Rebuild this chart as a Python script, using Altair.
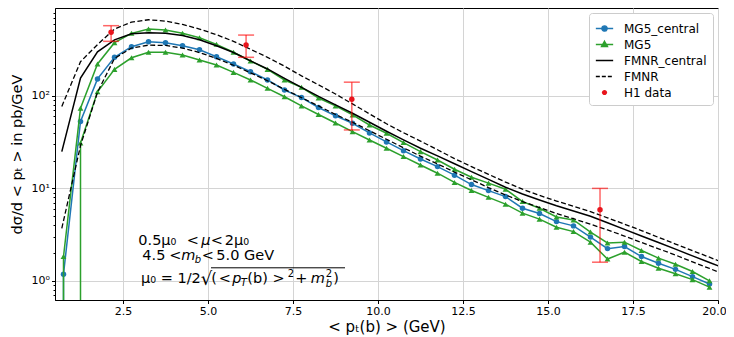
import altair as alt
import pandas as pd

# ---------------- data ----------------
x_mg5 = [0.25, 0.75, 1.25, 1.75, 2.25, 2.75, 3.25, 3.75, 4.25, 4.75,
         5.25, 5.75, 6.25, 6.75, 7.25, 7.75, 8.25, 8.75, 9.25, 9.75,
         10.25, 10.75, 11.25, 11.75, 12.25, 12.75, 13.25, 13.75, 14.25, 14.75,
         15.25, 15.75, 16.25, 16.75, 17.25, 17.75, 18.25, 18.75, 19.25, 19.75]
# non-positive values (first bins) are clipped to the bottom, as on the reference
mg5_central = [0, 1.18, 53, 153, 262, 341, 386, 377, 350, 316,
               266, 222, 183, 149, 116, 96, 75, 61, 50.7, 39.8,
               31.8, 25.6, 20.8, 17.2, 13.9, 11.0, 9.46, 8.15, 6.1, 5.35,
               4.37, 3.93, 2.97, 2.23, 2.35, 1.83, 1.55, 1.33, 1.11, 0.925]
mg5_upper = [0, 1.83, 73.6, 222, 377, 476, 530, 517, 476, 427,
             362, 297, 239, 194, 149, 124, 95, 78, 62.4, 48.5,
             39.5, 31.3, 25.0, 20.3, 16.1, 13.2, 11.4, 9.8, 7.2, 6.1,
             4.9, 4.56, 3.37, 2.57, 2.62, 2.13, 1.76, 1.51, 1.26, 1.0]
mg5_lower = [0, 0, 31, 111, 194, 259, 297, 297, 277, 245,
             216, 180, 149, 121, 98, 78, 63, 51, 41.1, 33.4,
             27.2, 22.1, 17.9, 14.6, 11.6, 9.5, 8.0, 6.75, 5.4, 4.65,
             3.8, 3.41, 2.62, 1.72, 2.04, 1.62, 1.37, 1.19, 1.03, 0.855]

x_fmnr = [0.7, 1.25, 1.75, 2.25, 2.75, 3.25, 3.75, 4.25, 4.75, 5.25,
          5.75, 6.25, 6.75, 7.25, 7.75, 8.25, 8.75, 9.25, 9.75, 10.25,
          10.75, 11.25, 11.75, 12.25, 12.75, 13.25, 13.75, 14.25, 14.75, 15.25,
          15.75, 16.25, 16.75, 17.25, 17.75, 18.25, 18.75, 19.25, 19.75, 20.25]
fmnr_central = [25, 156, 300, 405, 470, 483, 478, 450, 405, 350,
                295, 240, 196, 155, 124, 99, 80, 65, 52, 41.5,
                33.5, 27.2, 22.5, 18.5, 15.2, 12.5, 10.3, 8.7, 7.5, 6.5,
                5.7, 5.0, 4.25, 3.6, 3.05, 2.6, 2.2, 1.86, 1.58, 1.34]
fmnr_upper = [77, 235, 360, 530, 630, 668, 645, 595, 530, 460,
              390, 320, 262, 210, 165, 132, 105, 82, 64, 50,
              40, 32.5, 26.2, 21, 17.2, 14.2, 11.7, 9.8, 8.4, 7.3,
              6.4, 5.6, 4.8, 4.1, 3.5, 2.95, 2.5, 2.12, 1.8, 1.52]
fmnr_lower = [3.7, 29, 110, 255, 330, 355, 352, 330, 295, 255,
              215, 178, 146, 118, 96, 78, 63, 52, 42, 34,
              27.5, 22.3, 18.4, 15, 12.4, 10.2, 8.5, 7.2, 6.2, 5.35,
              4.7, 4.1, 3.55, 3.05, 2.6, 2.22, 1.9, 1.6, 1.36, 1.15]

h1_x = [2.15, 6.12, 9.23, 16.53]
h1_y = [489, 356, 92, 5.86]
h1_lo = [390, 262, 42.9, 1.59]
h1_hi = [576, 456, 141, 10.0]

legend_labels = ["MG5_central", "MG5", "FMNR_central", "FMNR", "H1 data"]
x_ticks = [2.5, 5.0, 7.5, 10.0, 12.5, 15.0, 17.5, 20.0]
y_ticks = [0.7, 0.8, 0.9, 1, 2, 3, 4, 5, 6, 7, 8, 9, 10, 20, 30, 40, 50, 60, 70, 80, 90,
           100, 200, 300, 400, 500, 600, 700, 800]

title_text = "γp → bb̄ at NLO @ CM energy of 319 GeV"

# ---------------- tables ----------------
def long(xs, ys, name):
    return pd.DataFrame({"x": xs, "y": ys, "series": name})

mg_df = pd.concat([long(x_mg5, mg5_central, "MG5_central"),
                   long(x_mg5, mg5_upper, "MG5_up"),
                   long(x_mg5, mg5_lower, "MG5_down")], ignore_index=True)
fm_df = pd.concat([long(x_fmnr, fmnr_central, "FMNR_central"),
                   long(x_fmnr, fmnr_upper, "FMNR_up"),
                   long(x_fmnr, fmnr_lower, "FMNR_down")], ignore_index=True)
mg_pos = mg_df[mg_df.y > 0]

CLIP_FLOOR = 1e-3  # stands for a clipped non-positive value on the log axis
drops = []
for name, ys in [("MG5_central", mg5_central), ("MG5_up", mg5_upper), ("MG5_down", mg5_lower)]:
    for i in range(1, len(ys)):
        if ys[i] > 0 and ys[i - 1] <= 0:
            drops.append({"x": x_mg5[i], "y": ys[i], "floor": CLIP_FLOOR, "series": name})
drop_df = pd.DataFrame(drops)

h1_df = pd.DataFrame({"x": h1_x, "y": h1_y, "lo": h1_lo, "hi": h1_hi})

# ---------------- encodings ----------------
FONT = "DejaVu Sans"
xscale = alt.Scale(domain=[0.5, 20.0], nice=False, zero=False)
yscale = alt.Scale(type="log", domain=[0.62, 895], nice=False)
major = "datum.value == 1 || datum.value == 10 || datum.value == 100"

xaxis = alt.Axis(values=x_ticks, format=".1f", title="< pₜ(b) >  (GeV)",
                 titleFontSize=15, titleFont=FONT, titleFontWeight="normal", titlePadding=3,
                 titleColor="black", labelFont=FONT, labelFontSize=11, labelColor="black",
                 labelPadding=2, tickSize=3.5, tickColor="black", domainColor="black",
                 labelOffset={"condition": {"test": "datum.value == 20", "value": -4}, "value": 0},
                 grid=True, gridColor="#d4d4d4", labelFlush=False, labelOverlap=False)
yaxis = alt.Axis(values=y_ticks,
                 labelExpr="datum.value == 1 ? '10⁰' : datum.value == 10 ? '10¹' : datum.value == 100 ? '10²' : ''",
                 title="dσ/d < pₜ > in pb/GeV", titleFontSize=14.5, titleFont=FONT,
                 titleFontWeight="normal", titleColor="black", titlePadding=7,
                 labelFont=FONT, labelFontSize=11, labelColor="black", labelPadding=2,
                 tickColor="black", domainColor="black",
                 tickSize={"condition": {"test": major, "value": 3.5}, "value": 2},
                 grid=True, gridColor="#d4d4d4",
                 gridOpacity={"condition": {"test": major, "value": 1}, "value": 0},
                 labelOverlap=False, labelFlush=False)

X = alt.X("x:Q", scale=xscale, axis=xaxis)
Y = alt.Y("y:Q", scale=yscale, axis=yaxis)

BLUE, GREEN, RED = "#1f77b4", "#2ca02c", "#e8141c"

layers = []
# MG5 central (blue)
blue = alt.Chart(mg_pos).transform_filter(alt.datum.series == "MG5_central")
layers.append(blue.mark_line(color=BLUE, strokeWidth=1.5, clip=True).encode(x=X, y=Y))
layers.append(alt.Chart(drop_df).transform_filter(alt.datum.series == "MG5_central")
              .mark_rule(color=BLUE, strokeWidth=1.5, clip=True).encode(x=X, y=Y, y2="floor:Q"))
layers.append(blue.mark_point(filled=True, shape="circle", size=30, color=BLUE, opacity=1, clip=True)
              .encode(x=X, y=Y))
# MG5 band (green)
green = alt.Chart(mg_pos).transform_filter(alt.FieldOneOfPredicate(field="series", oneOf=["MG5_up", "MG5_down"]))
layers.append(green.mark_line(color=GREEN, strokeWidth=1.5, clip=True).encode(x=X, y=Y, detail="series:N"))
layers.append(alt.Chart(drop_df).transform_filter(alt.FieldOneOfPredicate(field="series", oneOf=["MG5_up", "MG5_down"]))
              .mark_rule(color=GREEN, strokeWidth=1.5, clip=True).encode(x=X, y=Y, y2="floor:Q"))
layers.append(green.mark_point(filled=True, shape="triangle-up", size=34, color=GREEN, opacity=1, clip=True)
              .encode(x=X, y=Y))
# FMNR central (solid black) and band (dashed)
layers.append(alt.Chart(fm_df).transform_filter(alt.datum.series == "FMNR_central")
              .mark_line(color="black", strokeWidth=1.5, clip=True).encode(x=X, y=Y))
layers.append(alt.Chart(fm_df).transform_filter(alt.FieldOneOfPredicate(field="series", oneOf=["FMNR_up", "FMNR_down"]))
              .mark_line(color="black", strokeWidth=1.3, strokeDash=[5, 2.5], clip=True)
              .encode(x=X, y=Y, detail="series:N"))
# H1 data with error bars
h1 = alt.Chart(h1_df)
layers.append(h1.mark_rule(color="red", opacity=0.6, strokeWidth=1.5).encode(x=X, y=alt.Y("lo:Q", scale=yscale, axis=yaxis), y2="hi:Q"))
layers.append(h1.mark_point(shape="stroke", size=256, color="red", opacity=0.6, strokeWidth=1.5)
              .encode(x=X, y=alt.Y("lo:Q", scale=yscale, axis=yaxis)))
layers.append(h1.mark_point(shape="stroke", size=256, color="red", opacity=0.6, strokeWidth=1.5)
              .encode(x=X, y=alt.Y("hi:Q", scale=yscale, axis=yaxis)))
layers.append(h1.mark_circle(size=30, color=RED, opacity=1).encode(x=X, y=Y))

# ---------------- annotation (placed like plt.text in data coords) ----------------
ann_x, ann_y = 2.95, 2.47
anchor = pd.DataFrame({"x": [ann_x], "y": [ann_y]})
segments = [
    # text, dx, dy, size, italic
    ("0.5μ₀", 0, 0, 14.5, False), ("<", 48.5, 0, 14.5, False), ("μ", 63, 0, 14.5, True),
    ("<", 72.5, 0, 14.5, False), ("2μ₀", 86.5, 0, 14.5, False),
    ("4.5", 4, 15.6, 14.5, False), ("<", 31, 15.6, 14.5, False), ("m", 43, 15.6, 14.5, True),
    ("b", 56.5, 18.6, 10, True), ("<", 63.5, 15.6, 14.5, False), ("5.0 GeV", 78, 15.6, 14.5, False),
    ("μ₀ = 1/2", 2.7, 38.3, 14.5, False), ("√", 62.5, 40, 18, False), ("(", 73, 38.3, 14.5, False),
    ("<", 80.5, 38.3, 14.5, False), ("p", 94, 38.3, 14.5, True), ("T", 102.5, 41.8, 10, True),
    ("(b) >", 109, 38.3, 14.5, False), ("2", 149.5, 32.3, 10, False),
    ("+", 157, 38.3, 14.5, False), ("m", 172.5, 38.3, 14.5, True), ("2", 187.5, 32.3, 10, False),
    ("b", 187.5, 42.3, 10, True), (")", 195, 38.3, 14.5, False),
]
for txt, dx, dy, size, ital in segments:
    layers.append(alt.Chart(anchor).mark_text(text=txt, dx=dx, dy=dy, fontSize=size, font=FONT,
                                              fontStyle="italic" if ital else "normal",
                                              align="left", baseline="alphabetic", color="black")
                  .encode(x=X, y=Y))
# overline of the square root
px_per_unit = 34.0
px_per_decade = 92.5
over = pd.DataFrame({"x": [ann_x + 72.7 / px_per_unit], "x2": [ann_x + 206.7 / px_per_unit],
                     "y": [ann_y * 10 ** (-23.3 / px_per_decade)]})
layers.append(alt.Chart(over).mark_rule(color="black", strokeWidth=1).encode(x=X, x2="x2:Q", y=Y))

# ---------------- legend (driven by a clipped, invisible layer) ----------------
circ = "M-1,0H1M0.3,0A0.3,0.3 0 1 1 -0.3,0A0.3,0.3 0 1 1 0.3,0Z"
tri = "M-1,0H1M0,-0.36L0.33,0.22L-0.33,0.22Z"
seg = "M-1,0H1"
dot = "M0.3,0A0.3,0.3 0 1 1 -0.3,0A0.3,0.3 0 1 1 0.3,0Z"
leg = alt.Legend(title=None, orient="top-right", offset=5, padding=6, fillColor="white",
                 strokeColor="#cccccc", cornerRadius=3, labelFont=FONT, labelFontSize=12,
                 labelColor="black", symbolSize=300, symbolStrokeWidth=1.5, rowPadding=0,
                 labelOffset=10)
leg_df = pd.DataFrame({"label": legend_labels, "x": [-5.0] * 5, "y": [1.0] * 5})
layers.append(alt.Chart(leg_df).mark_point(clip=True, opacity=1, strokeWidth=1.5, size=300).encode(
    x=X, y=Y,
    shape=alt.Shape("label:N", scale=alt.Scale(domain=legend_labels, range=[circ, tri, seg, seg, dot]), legend=leg),
    fill=alt.Fill("label:N", scale=alt.Scale(domain=legend_labels,
                                             range=[BLUE, GREEN, "transparent", "transparent", RED]), legend=leg),
    stroke=alt.Stroke("label:N", scale=alt.Scale(domain=legend_labels,
                                                 range=[BLUE, GREEN, "black", "black", "transparent"]), legend=leg),
    strokeDash=alt.StrokeDash("label:N", scale=alt.Scale(domain=legend_labels,
                                                         range=[[1, 0], [1, 0], [1, 0], [4, 2], [1, 0]]), legend=leg),
))

chart = alt.layer(*layers).properties(
    width=663, height=292,
    title=alt.TitleParams(title_text, fontSize=16, font=FONT, fontWeight="normal", color="black", offset=4),
    autosize=alt.AutoSizeParams(type="none"),
    padding={"left": 47, "top": 0, "right": 8, "bottom": 40},
).configure_view(stroke="black", strokeWidth=1)

chart.save("out.html", embed_options={"renderer": "svg", "actions": False})
